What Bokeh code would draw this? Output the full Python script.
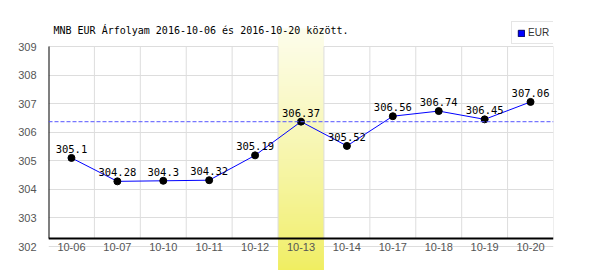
import numpy as np
from bokeh.plotting import figure
from bokeh.models import (Range1d, FixedTicker, Span, Legend, LegendItem, ColumnDataSource, Label)
from bokeh.core.properties import value
from bokeh.embed import file_html
from bokeh.resources import INLINE

dates = ["10-06", "10-07", "10-10", "10-11", "10-12", "10-13", "10-14", "10-17", "10-18", "10-19", "10-20"]
rates = [305.1, 304.28, 304.3, 304.32, 305.19, 306.37, 305.52, 306.56, 306.74, 306.45, 307.06]
rate_labels = ["305.1", "304.28", "304.3", "304.32", "305.19", "306.37", "305.52", "306.56", "306.74", "306.45", "307.06"]
y_ticks = [302, 303, 304, 305, 306, 307, 308, 309]
highlight = "10-13"
series_name = "EUR"
title_text = "MNB EUR Árfolyam 2016-10-06 és 2016-10-20 között."

n = len(dates)
xc = [i + 0.5 for i in range(n)]
hi = dates.index(highlight)

# frame: y=0..270 px, 309 at 46px, 302 at 246px
ppu = 200.0 / 7.0
y_top = 309 + 46 / ppu
y_bot = 302 - 24 / ppu
band_top = 309 + 18 / ppu
axis_y = 302 + 8 / ppu

p = figure(width=600, height=270, output_backend="svg", toolbar_location=None,
           x_range=Range1d(0, n), y_range=Range1d(y_bot, y_top),
           min_border_left=48, min_border_right=47, min_border_top=0, min_border_bottom=0)
p.background_fill_color = "white"
p.border_fill_color = "white"
p.outline_line_color = None

# highlight band gradient
N = 120
t = np.linspace(0, 1, N)
top = np.array([253, 253, 236])
bot = np.array([240, 238, 96])
img = np.zeros((N, 1), dtype=np.uint32)
view = img.view(dtype=np.uint8).reshape((N, 1, 4))
for k in range(N):
    c = bot + (top - bot) * t[k] ** 0.8
    view[k, 0, 0] = int(c[0]); view[k, 0, 1] = int(c[1]); view[k, 0, 2] = int(c[2]); view[k, 0, 3] = 255
p.image_rgba(image=[img], x=hi, y=y_bot, dw=1, dh=band_top - y_bot)

# grids
p.xgrid.visible = False
p.ygrid.ticker = FixedTicker(ticks=y_ticks)
p.ygrid.grid_line_color = "#dddddd"
p.ygrid.grid_line_width = 1
vx = list(range(1, n + 1))
p.segment(x0=vx, y0=[axis_y] * len(vx), x1=vx, y1=[y_ticks[-1]] * len(vx), line_color="#dddddd", line_width=1)

# axes
p.xaxis.visible = False
ya = p.yaxis[0]
ya.ticker = FixedTicker(ticks=y_ticks)
ya.axis_line_color = None
ya.major_tick_line_color = None
ya.minor_tick_line_color = None
ya.major_label_standoff = 6
ya.major_label_text_font = "Liberation Sans"
ya.major_label_text_font_size = "11px"
ya.major_label_text_color = "#555555"

p.add_layout(Span(location=axis_y, dimension="width", line_color="black", line_width=2))
p.segment(x0=[0], y0=[axis_y], x1=[0], y1=[y_ticks[-1]], line_color="black", line_width=2)

# x labels
p.text(x=xc, y=[y_ticks[0]] * n, text=dates, text_align="center", text_baseline="middle",
       text_font=value("Liberation Sans"), text_font_size="11px", text_color="#555555")

# reference dashed line
p.add_layout(Span(location=rates[hi], dimension="width", line_color="#5555ff", line_alpha=0.8,
                  line_width=1.2, line_dash="4 2"))

# series
src = ColumnDataSource(dict(x=xc, y=rates, lab=rate_labels))
p.line("x", "y", source=src, line_color="#0000ff", line_width=1)
p.scatter("x", "y", source=src, size=7, fill_color="black", line_color="black")
p.text("x", "y", text="lab", source=src, text_align="center", text_baseline="bottom", y_offset=-5,
       text_font=value("DejaVu Sans Mono"), text_font_size="10.5px", text_color="black")

# legend (swatch-only renderer, no visible mark)
nan = float("nan")
dummy = p.quad(left=[nan], right=[nan], top=[nan], bottom=[nan], fill_color="#0000ff", line_color="#000066")
leg = Legend(items=[LegendItem(label=series_name, renderers=[dummy])],
             location=(463, 226), orientation="vertical",
             glyph_width=8, glyph_height=8, label_text_font="Liberation Sans",
             label_text_font_size="10px", label_text_color="#333333",
             label_standoff=3, padding=5, spacing=0, margin=0,
             border_line_color="#cccccc", background_fill_color="white", background_fill_alpha=1,
             label_height=10)
p.add_layout(leg, "center")

# title
p.add_layout(Label(x=5, y=240, x_units="screen", y_units="screen", text=title_text,
                   text_font="DejaVu Sans Mono", text_font_size="10px", text_color="black",
                   text_baseline="alphabetic", text_align="left"))

open("out.html", "w").write(file_html(p, INLINE))
